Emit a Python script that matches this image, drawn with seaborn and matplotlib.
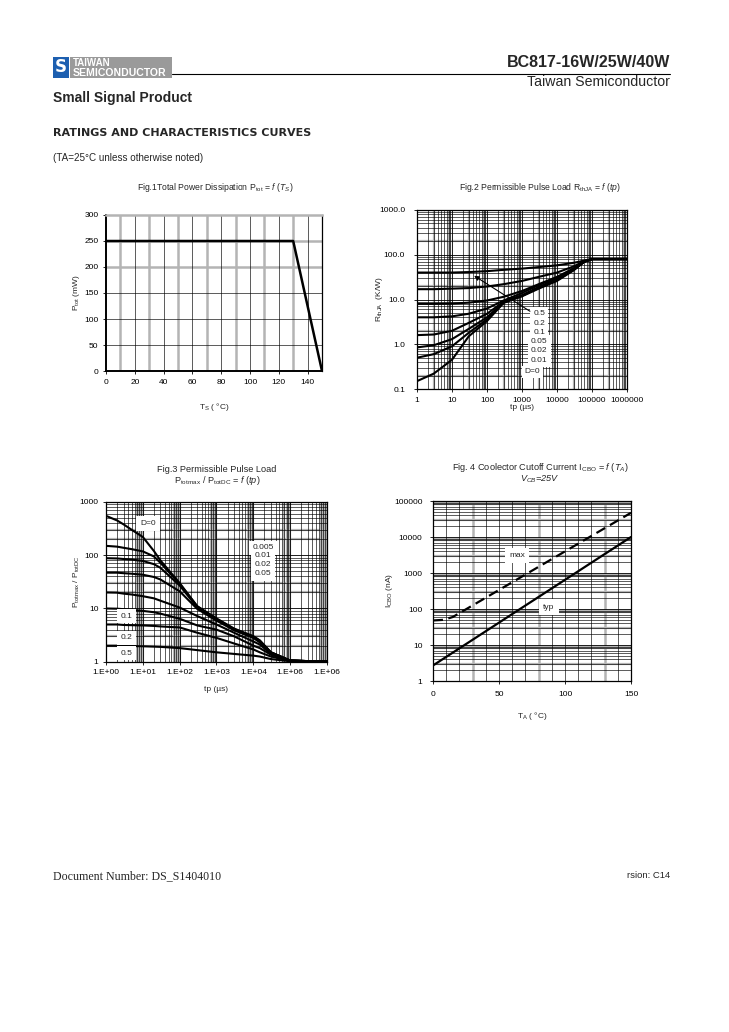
import numpy as np
import pandas as pd
import matplotlib
matplotlib.use("Agg")
import matplotlib.pyplot as plt
import seaborn as sns
from matplotlib.patches import Rectangle

sns.set_theme(style="white")
plt.rcParams['font.family'] = ['Liberation Sans', 'DejaVu Sans']
plt.rcParams['mathtext.fontset'] = 'custom'
plt.rcParams['mathtext.rm'] = 'Liberation Sans'
plt.rcParams['mathtext.it'] = 'Liberation Sans:italic'
plt.rcParams['mathtext.bf'] = 'Liberation Sans:bold'

# ---------------- data ----------------
# Fig.1 total power dissipation
fig1_ts = [0, 130, 150]
fig1_ptot = [250, 250, 0]
fig1_xticks = [0, 20, 40, 60, 80, 100, 120, 140]
fig1_yticks = [0, 50, 100, 150, 200, 250, 300]

# Fig.2 permissible pulse load RthJA (K/W) vs tp (us)
fig2_tp = [1, 3, 10, 30, 100, 300, 1000, 3000, 10000, 30000, 60000, 100000, 1000000]
fig2_d050 = [40, 40, 40, 41, 43, 46, 49, 53, 58, 66, 74, 80, 80]
fig2_d020 = [17, 17, 17.5, 18, 19.5, 22, 26, 32, 40, 55, 72, 80, 80]
fig2_d010 = [8, 8, 8.1, 8.5, 9.5, 11.5, 15.5, 22, 32, 50, 70, 80, 80]
fig2_d005 = [4, 4, 4.2, 4.8, 6.3, 9.5, 14, 21, 31, 48, 70, 80, 80]
fig2_d002 = [1.6, 1.65, 2.0, 3.0, 4.8, 9.0, 12.5, 19, 29, 47, 70, 80, 80]
fig2_d001 = [0.85, 0.95, 1.3, 2.2, 4.0, 8.8, 12.2, 18.5, 28, 46, 70, 80, 80]
fig2_d0005 = [0.5, 0.6, 0.9, 1.8, 3.6, 8.6, 12, 18, 27, 46, 70, 80, 80]
fig2_d000 = [0.15, 0.22, 0.45, 1.5, 3.3, 8.4, 11.8, 17.5, 26, 45, 70, 80, 80]
fig2_xticklabels = ['1', '10', '100', '1000', '10000', '100000', '1000000']
fig2_yticklabels = ['0.1', '1.0', '10.0', '100.0', '1000.0']
fig2_labels = ['0.5', '0.2', '0.1', '0.05', '0.02', '0.01']

# Fig.3 permissible pulse load Ptotmax/PtotDC vs tp (us)
fig3_tp = [1, 2, 3, 5, 10, 20, 30, 100, 300, 1000, 3000, 10000, 15000, 30000, 100000, 1000000]
fig3_d000 = [550, 450, 380, 300, 220, 120, 80, 30, 11, 6.5, 4.2, 3.0, 2.5, 1.5, 1.05, 1.0]
fig3_d0005 = [150, 145, 138, 130, 118, 95, 72, 29, 11, 6.4, 4.1, 3.0, 2.5, 1.5, 1.05, 1.0]
fig3_d001 = [88, 87, 85, 83, 78, 68, 58, 27, 10.5, 6.2, 4.0, 2.9, 2.4, 1.5, 1.05, 1.0]
fig3_d002 = [47, 47, 46, 45, 43, 39, 35, 21, 9.8, 5.9, 3.9, 2.8, 2.3, 1.45, 1.05, 1.0]
fig3_d005 = [20, 19.8, 19, 18.3, 17, 15.5, 14, 10.4, 7.2, 5.0, 3.5, 2.4, 2.1, 1.4, 1.05, 1.0]
fig3_d010 = [10, 9.9, 9.7, 9.4, 9, 8.5, 8, 6.4, 4.8, 4.0, 3.0, 2.0, 1.8, 1.35, 1.05, 1.0]
fig3_d020 = [5, 5, 4.9, 4.85, 4.8, 4.7, 4.6, 4.4, 3.5, 2.8, 2.2, 1.7, 1.5, 1.25, 1.04, 1.0]
fig3_d050 = [2, 2, 2, 1.97, 1.95, 1.92, 1.9, 1.8, 1.65, 1.5, 1.4, 1.3, 1.25, 1.12, 1.02, 1.0]
fig3_xticklabels = ['1.E+00', '1.E+01', '1.E+02', '1.E+03', '1.E+04', '1.E+06', '1.E+06']
fig3_yticklabels = ['1', '10', '100', '1000']
fig3_labels = ['0.005', '0.01', '0.02', '0.05']

# Fig.4 collector cutoff current ICBO (nA) vs TA
fig4_ta_max = [0, 8, 15, 150]
fig4_icbo_max = [48, 50, 60, 47000]
fig4_ta_typ = [0, 150]
fig4_icbo_typ = [2.7, 10000]
fig4_xticks = [0, 50, 100, 150]
fig4_yticklabels = ['1', '10', '100', '1000', '10000', '100000']

# ---------------- figure ----------------
W, H = 729, 1032
fig = plt.figure(figsize=(W / 100, H / 100), dpi=100)
fig.patch.set_facecolor('white')


def ax_px(left, top, right, bottom):
    return fig.add_axes([left / W, 1 - bottom / H, (right - left) / W, (bottom - top) / H])


def ftext(x, y, s, **kw):
    fig.text(x / W, 1 - y / H, s, **kw)


GRAY = '#b4b4b4'
FS = 6


def style_axes(ax):
    for sp in ax.spines.values():
        sp.set_color('black')
        sp.set_linewidth(0.9)
    ax.tick_params(axis='both', which='major', labelsize=FS, length=2.5, width=0.6,
                   direction='out', colors='black', pad=3, bottom=True, left=True)
    ax.tick_params(axis='both', which='minor', length=0, bottom=False, left=False)
    ax.set_facecolor('white')


def log_grid(ax, axis, lo, hi, gray_mult):
    line = ax.axvline if axis == 'x' else ax.axhline
    for e in range(lo, hi):
        for m in range(1, 11):
            v = m * 10 ** e
            if m in gray_mult:
                line(v, color=GRAY, lw=1.6, zorder=0.5)
            line(v, color='black', lw=0.45, zorder=0.6)


# ---- Header ----
fig.patches.append(Rectangle((53 / W, 1 - 78 / H), 16 / W, 21 / H, transform=fig.transFigure,
                             facecolor='#1d5fb0', edgecolor='none'))
ftext(61, 67.5, 'S', color='white', fontsize=12, fontweight='bold', ha='center', va='center',
      family='DejaVu Sans')
fig.patches.append(Rectangle((70 / W, 1 - 78 / H), 102 / W, 21 / H, transform=fig.transFigure,
                             facecolor='#9a9a9a', edgecolor='none'))
ftext(73, 62.5, 'TAIWAN', color='white', fontsize=7, fontweight='bold', va='center')
ftext(73, 73, 'SEMICONDUCTOR', color='white', fontsize=7.6, fontweight='bold', va='center')
fig.add_artist(plt.Line2D([172 / W, 670 / W], [1 - 73.5 / H, 1 - 73.5 / H],
                          transform=fig.transFigure, color='black', lw=0.8))
ftext(670, 62.5, 'BC817-16W/25W/40W', fontsize=11.5, fontweight='bold', ha='right', va='center')
ftext(670, 81.5, 'Taiwan Semiconductor', fontsize=10.2, ha='right', va='center')
ftext(53, 98, 'Small Signal Product', fontsize=10, fontweight='bold', va='center')
ftext(53, 133, 'RATINGS AND CHARACTERISTICS CURVES', fontsize=8, fontweight='heavy',
      va='center', family='DejaVu Sans')
ftext(53, 158, '(TA=25\u00b0C unless otherwise noted)', fontsize=7.1, va='center')

# ---- Fig.1 ----
ax1 = ax_px(106, 215, 322, 371)
style_axes(ax1)
for v in range(10, 150, 10):
    if (v // 10) % 2 == 1:
        ax1.axvline(v, color=GRAY, lw=1.8, zorder=0.5)
    else:
        ax1.axvline(v, color='black', lw=0.45, zorder=0.6)
for v in [50, 100, 150]:
    ax1.axhline(v, color='black', lw=0.45, zorder=0.6)
for v in [200, 250]:
    ax1.axhline(v, color=GRAY, lw=1.8, zorder=0.5)
df1 = pd.DataFrame({'Ts': fig1_ts, 'Ptot': fig1_ptot})
sns.lineplot(data=df1, x='Ts', y='Ptot', ax=ax1, color='black', lw=1.8, sort=False, zorder=3)
ax1.set_xlim(0, 150)
ax1.set_ylim(0, 300)
ax1.set_xticks(fig1_xticks)
ax1.set_yticks(fig1_yticks)
ax1.spines['top'].set_color(GRAY)
ax1.spines['top'].set_linewidth(1.8)
ax1.spines['left'].set_linewidth(1.4)
ax1.spines['bottom'].set_linewidth(1.4)
ax1.set_xlabel('T$_\\mathregular{S}$ ( \u00b0C)', fontsize=FS)
ax1.set_ylabel('P$_\\mathregular{tot}$ (mW)', fontsize=FS)
ax1.xaxis.set_label_coords(0.5, -0.19)
ax1.yaxis.set_label_coords(-0.112, 0.5)
ftext(215, 188, 'Fig.1Total Power Dissipation P$_{\\mathregular{tot}}$ = $f$ $(T_S)$', fontsize=6.2,
      ha='center', va='center')

# ---- Fig.2 ----
ax2 = ax_px(417, 210, 627, 389)
style_axes(ax2)
ax2.set_xscale('log')
ax2.set_yscale('log')
log_grid(ax2, 'x', 0, 6, [3, 8, 9])
log_grid(ax2, 'y', -1, 3, [2])
fig2_series = {'0.5': fig2_d050, '0.2': fig2_d020, '0.1': fig2_d010, '0.05': fig2_d005,
               '0.02': fig2_d002, '0.01': fig2_d001, '0.005': fig2_d0005, '0': fig2_d000}
df2 = pd.concat([pd.DataFrame({'tp': fig2_tp, 'R': v, 'D': k}) for k, v in fig2_series.items()])
sns.lineplot(data=df2, x='tp', y='R', units='D', estimator=None, color='black', lw=1.5,
             ax=ax2, zorder=3)
ax2.set_xlim(1, 1e6)
ax2.set_ylim(0.1, 1000)
ax2.set_xticks([10 ** i for i in range(7)])
ax2.set_xticklabels(fig2_xticklabels)
ax2.set_yticks([10 ** i for i in range(-1, 4)])
ax2.set_yticklabels(fig2_yticklabels)
ax2.minorticks_off()
ax2.tick_params(axis='y', pad=6)
ax2.set_xlabel('tp (\u00b5s)', fontsize=FS, labelpad=1)
ax2.set_ylabel('R$_{\\mathregular{thJA}}$  (K/W)', fontsize=FS)
ax2.yaxis.set_label_coords(-0.15, 0.5)
ax2.xaxis.set_label_coords(0.5, -0.085)
for lbl, yf in zip(fig2_labels, [0.419, 0.367, 0.317, 0.264, 0.214, 0.160]):
    ax2.text(0.582, yf, lbl, transform=ax2.transAxes, fontsize=FS, ha='center', va='center',
             zorder=5, bbox=dict(facecolor='white', edgecolor='none', pad=2.2))
ax2.text(0.549, 0.095, 'D=0', transform=ax2.transAxes, fontsize=FS, ha='center', va='center',
         zorder=5, bbox=dict(facecolor='white', edgecolor='none', pad=2))
ax2.annotate('', xy=(0.261, 0.641), xycoords='axes fraction', xytext=(0.549, 0.426),
             textcoords='axes fraction',
             arrowprops=dict(arrowstyle='-|>', color='black', lw=0.8, mutation_scale=7),
             zorder=6)
ftext(540, 187, 'Fig.2 Permissible Pulse Load R$_{\\mathregular{thJA}}$ = $f$ $(tp)$',
      fontsize=6.2, ha='center', va='center')

# ---- Fig.3 ----
ax3 = ax_px(106, 502, 327, 661.7)
style_axes(ax3)
ax3.set_xscale('log')
ax3.set_yscale('log')
log_grid(ax3, 'x', 0, 6, [7, 8, 9, 10])
log_grid(ax3, 'y', 0, 3, [2, 3])
fig3_series = {'0': fig3_d000, '0.005': fig3_d0005, '0.01': fig3_d001, '0.02': fig3_d002,
               '0.05': fig3_d005, '0.1': fig3_d010, '0.2': fig3_d020, '0.5': fig3_d050}
df3 = pd.concat([pd.DataFrame({'tp': fig3_tp, 'P': v, 'D': k}) for k, v in fig3_series.items()])
sns.lineplot(data=df3, x='tp', y='P', units='D', estimator=None, color='black', lw=1.5,
             ax=ax3, zorder=3)
ax3.set_xlim(1, 1e6)
ax3.set_ylim(1, 1000)
ax3.set_xticks([10 ** i for i in range(7)])
ax3.set_xticklabels(fig3_xticklabels)
ax3.set_yticks([10 ** i for i in range(4)])
ax3.set_yticklabels(fig3_yticklabels)
ax3.minorticks_off()
ax3.set_xlabel('tp (\u00b5s)', fontsize=FS)
ax3.set_ylabel('P$_{\\mathregular{totmax}}$ / P$_{\\mathregular{totDC}}$', fontsize=FS)
ax3.yaxis.set_label_coords(-0.108, 0.5)
ax3.xaxis.set_label_coords(0.5, -0.15)
ax3.text(0.191, 0.864, 'D=0', transform=ax3.transAxes, fontsize=FS, ha='center', va='center',
         zorder=5, bbox=dict(facecolor='white', edgecolor='none', pad=3))
for lbl, yf in zip(fig3_labels, [0.715, 0.662, 0.608, 0.552]):
    ax3.text(0.711, yf, lbl, transform=ax3.transAxes, fontsize=FS, ha='center', va='center',
             zorder=5, bbox=dict(facecolor='white', edgecolor='none', pad=2.5))
for lbl, yf in zip(['0.1', '0.2', '0.5'], [0.285, 0.151, 0.053]):
    ax3.text(0.094, yf, lbl, transform=ax3.transAxes, fontsize=FS, ha='center', va='center',
             zorder=5, bbox=dict(facecolor='white', edgecolor='none', pad=2.5))
ftext(217, 470, 'Fig.3 Permissible Pulse Load', fontsize=6.6, ha='center', va='center')
ftext(217, 481, 'P$_{\\mathregular{totmax}}$ / P$_{\\mathregular{totDC}}$ = $f$ $(tp)$',
      fontsize=6.6, ha='center', va='center')

# ---- Fig.4 ----
ax4 = ax_px(433, 501, 631, 681)
style_axes(ax4)
ax4.set_yscale('log')
for v in range(10, 150, 10):
    if v in (30, 80, 130):
        ax4.axvline(v, color=GRAY, lw=1.8, zorder=0.5)
    else:
        ax4.axvline(v, color='black', lw=0.45, zorder=0.6)
log_grid(ax4, 'y', 0, 5, [3, 8, 9])
df4_max = pd.DataFrame({'TA': fig4_ta_max, 'I': fig4_icbo_max})
df4_typ = pd.DataFrame({'TA': fig4_ta_typ, 'I': fig4_icbo_typ})
sns.lineplot(data=df4_max, x='TA', y='I', ax=ax4, color='black', lw=1.6, zorder=3,
             linestyle=(0, (4.5, 2.5)))
sns.lineplot(data=df4_typ, x='TA', y='I', ax=ax4, color='black', lw=1.6, zorder=3)
ax4.set_xlim(0, 150)
ax4.set_ylim(1, 100000)
ax4.set_xticks(fig4_xticks)
ax4.set_yticks([10 ** i for i in range(6)])
ax4.set_yticklabels(fig4_yticklabels)
ax4.minorticks_off()
ax4.tick_params(axis='y', pad=5)
ax4.tick_params(axis='x', pad=5)
ax4.set_xlabel('T$_\\mathregular{A}$ ( \u00b0C)', fontsize=FS)
ax4.set_ylabel('I$_{\\mathregular{CBO}}$ (nA)', fontsize=FS)
ax4.yaxis.set_label_coords(-0.19, 0.5)
ax4.xaxis.set_label_coords(0.5, -0.16)
ax4.text(0.425, 0.698, 'max', transform=ax4.transAxes, fontsize=FS, ha='center', va='center',
         zorder=5, bbox=dict(facecolor='white', edgecolor='none', pad=3))
ax4.text(0.585, 0.411, 'typ', transform=ax4.transAxes, fontsize=FS, ha='center', va='center',
         zorder=5, bbox=dict(facecolor='white', edgecolor='none', pad=3))
ftext(540, 467, 'Fig. 4 Coolector Cutoff Current I$_{\\mathregular{CBO}}$ = $f$ $(T_A)$',
      fontsize=6.6, ha='center', va='center')
ftext(540, 479, '$V_{CB}$=25V', fontsize=6.6, ha='center', va='center', style='italic')

# ---- Footer ----
ftext(53, 876, 'Document Number: DS_S1404010', fontsize=8.6, family='Liberation Serif',
      va='center')
ftext(670, 876, 'rsion: C14', fontsize=6.8, ha='right', va='center')

fig.savefig('out.png', dpi=100, facecolor='white')
